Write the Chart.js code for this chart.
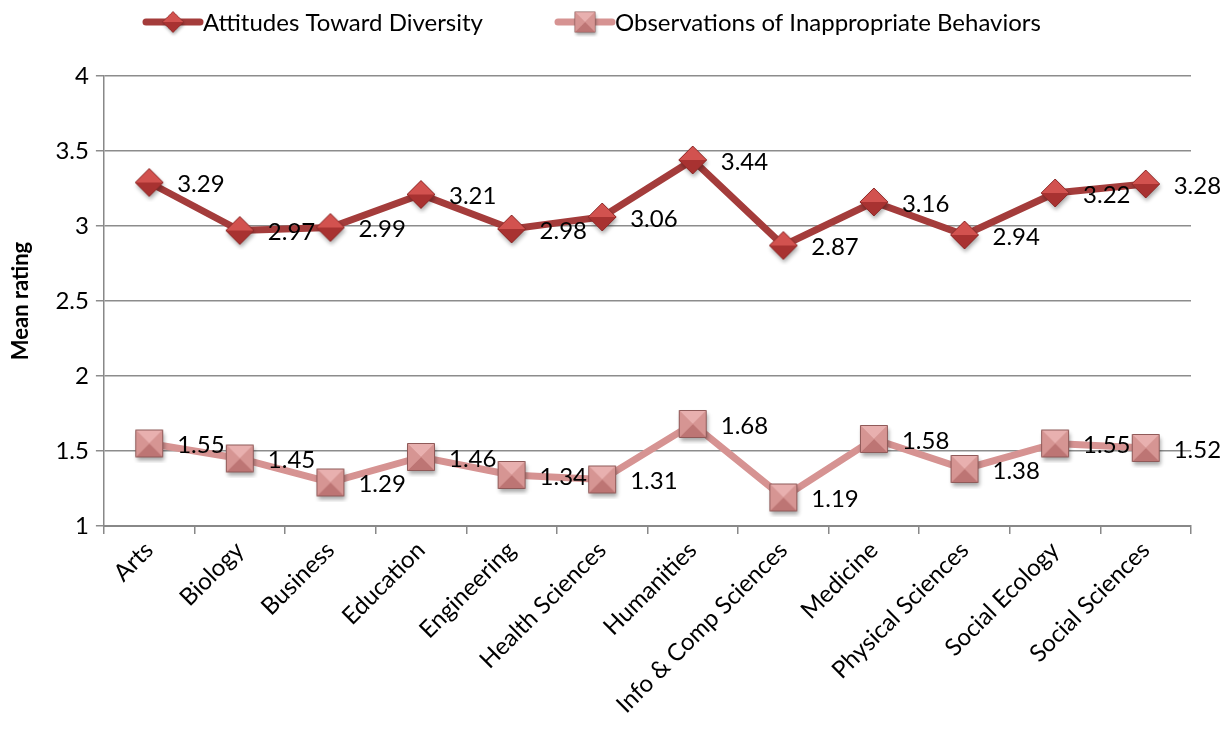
<!DOCTYPE html>
<html lang="en">
<head>
  <meta charset="UTF-8">
  <title>Mean rating by school</title>
  <script src="https://cdn.jsdelivr.net/npm/chart.js"></script>
  <style>
    html, body { margin: 0; padding: 0; background: #fff; }
    #wrap { width: 1225px; height: 729px; }
  </style>
</head>
<body>
  <div id="wrap"><canvas id="chart"></canvas></div>
  <script>
    // chart data
    const schools = ['Arts', 'Biology', 'Business', 'Education', 'Engineering', 'Health Sciences',
      'Humanities', 'Info & Comp Sciences', 'Medicine', 'Physical Sciences', 'Social Ecology', 'Social Sciences'];
    const attitudes = [3.29, 2.97, 2.99, 3.21, 2.98, 3.06, 3.44, 2.87, 3.16, 2.94, 3.22, 3.28];
    const observations = [1.55, 1.45, 1.29, 1.46, 1.34, 1.31, 1.68, 1.19, 1.58, 1.38, 1.55, 1.52];
    const seriesNames = ['Attitudes Toward Diversity', 'Observations of Inappropriate Behaviors'];
    const yTicks = [1, 1.5, 2, 2.5, 3, 3.5, 4];

    const FONT = 'Lato, "Open Sans", sans-serif';

    // small bevelled marker images (look like the office-style markers)
    function makeMarker(shape, light, mid, dark, edge) {
      const c = document.createElement('canvas');
      c.width = 40;
      c.height = 40;
      const g = c.getContext('2d');
      const cx = 20, cy = 20;
      const h = shape === 'diamond' ? 14 : 13.5;
      let pts;
      if (shape === 'diamond') {
        pts = [[cx, cy - h], [cx + h, cy], [cx, cy + h], [cx - h, cy]];
      } else {
        pts = [[cx - h, cy - h], [cx + h, cy - h], [cx + h, cy + h], [cx - h, cy + h]];
      }
      // shadow
      g.save();
      g.shadowColor = 'rgba(0,0,0,0.35)';
      g.shadowBlur = 4;
      g.shadowOffsetX = 1;
      g.shadowOffsetY = 3;
      g.beginPath();
      pts.forEach((p, i) => i ? g.lineTo(p[0], p[1]) : g.moveTo(p[0], p[1]));
      g.closePath();
      g.fillStyle = mid;
      g.fill();
      g.restore();
      if (shape === 'diamond') {
        // top half light, bottom half dark
        g.beginPath();
        g.moveTo(pts[3][0], pts[3][1]);
        g.lineTo(pts[0][0], pts[0][1]);
        g.lineTo(pts[1][0], pts[1][1]);
        g.closePath();
        g.fillStyle = light;
        g.fill();
        g.beginPath();
        g.moveTo(pts[3][0], pts[3][1]);
        g.lineTo(pts[2][0], pts[2][1]);
        g.lineTo(pts[1][0], pts[1][1]);
        g.closePath();
        g.fillStyle = dark;
        g.fill();
      } else {
        // pyramid faces
        const faces = [light, mid, dark, mid];
        for (let i = 0; i < 4; i++) {
          const a = pts[i], b = pts[(i + 1) % 4];
          g.beginPath();
          g.moveTo(a[0], a[1]);
          g.lineTo(b[0], b[1]);
          g.lineTo(cx, cy);
          g.closePath();
          g.fillStyle = faces[i];
          g.fill();
        }
      }
      g.beginPath();
      pts.forEach((p, i) => i ? g.lineTo(p[0], p[1]) : g.moveTo(p[0], p[1]));
      g.closePath();
      g.strokeStyle = edge;
      g.lineWidth = 1;
      g.stroke();
      return c;
    }

    const diamondImg = makeMarker('diamond', '#d2524f', '#bb4441', '#a83231', '#8e2b2a');
    const squareImg = makeMarker('square', '#e8b0af', '#d69593', '#bd7574', '#8f5a59');

    const lineColors = ['#a43c3b', '#d69392'];
    const markerImgs = [diamondImg, squareImg];

    // value labels to the right of each point
    const valueLabels = {
      id: 'valueLabels',
      afterDatasetsDraw(chart) {
        const ctx = chart.ctx;
        ctx.save();
        ctx.font = '24px ' + FONT;
        ctx.fillStyle = '#000';
        ctx.textAlign = 'left';
        ctx.textBaseline = 'middle';
        chart.data.datasets.forEach((ds, di) => {
          chart.getDatasetMeta(di).data.forEach((pt, i) => {
            ctx.fillText(ds.data[i].toFixed(2), pt.x + 28, pt.y + 2);
          });
        });
        ctx.restore();
      }
    };

    // legend drawn like the original: thick line, marker, text
    const lineLegend = {
      id: 'lineLegend',
      afterDraw(chart) {
        const ctx = chart.ctx;
        const starts = [143, 555];
        ctx.save();
        ctx.font = '24px ' + FONT;
        ctx.textBaseline = 'middle';
        ctx.fillStyle = '#000';
        seriesNames.forEach((name, i) => {
          const x = starts[i], y = 22;
          ctx.strokeStyle = lineColors[i];
          ctx.lineWidth = 7;
          ctx.lineCap = 'round';
          ctx.beginPath();
          ctx.moveTo(x + 3, y);
          ctx.lineTo(x + 57, y);
          ctx.stroke();
          const img = markerImgs[i];
          const s = 0.75;
          ctx.drawImage(img, x + 30 - img.width * s / 2, y - img.height * s / 2, img.width * s, img.height * s);
          ctx.fillText(name, x + 60, y + 1);
        });
        ctx.restore();
      }
    };

    new Chart(document.getElementById('chart'), {
      type: 'line',
      data: {
        labels: schools,
        datasets: [{
          label: seriesNames[0],
          data: attitudes,
          borderColor: lineColors[0],
          borderWidth: 7,
          pointStyle: diamondImg,
          pointRadius: 14,
          tension: 0
        }, {
          label: seriesNames[1],
          data: observations,
          borderColor: lineColors[1],
          borderWidth: 7,
          pointStyle: squareImg,
          pointRadius: 14,
          tension: 0
        }]
      },
      options: {
        responsive: true,
        maintainAspectRatio: false,
        animation: false,
        layout: { padding: { top: 76, right: 34, left: 8, bottom: 8 } },
        plugins: {
          legend: { display: false },
          tooltip: { enabled: false }
        },
        scales: {
          x: {
            offset: true,
            grid: {
              offset: true,
              drawOnChartArea: false,
              color: '#888',
              tickLength: 8,
              lineWidth: 1.5
            },
            border: { color: '#888', width: 2 },
            ticks: {
              font: { family: FONT, size: 24 },
              color: '#000',
              maxRotation: 45,
              minRotation: 45,
              autoSkip: false,
              padding: 2
            }
          },
          y: {
            min: 1,
            max: 4,
            afterBuildTicks(axis) {
              axis.ticks = yTicks.map(v => ({ value: v }));
            },
            grid: {
              color: '#8c8c8c',
              lineWidth: 1.5,
              tickLength: 8
            },
            border: { color: '#888', width: 1.5 },
            ticks: {
              font: { family: FONT, size: 24 },
              color: '#000',
              padding: 7,
              callback: v => String(v)
            },
            title: {
              display: true,
              text: 'Mean rating',
              font: { family: FONT, size: 22, weight: 'bold' },
              color: '#000',
              padding: { top: 0, bottom: 14 }
            }
          }
        }
      },
      plugins: [valueLabels, lineLegend]
    });
  </script>
</body>
</html>
